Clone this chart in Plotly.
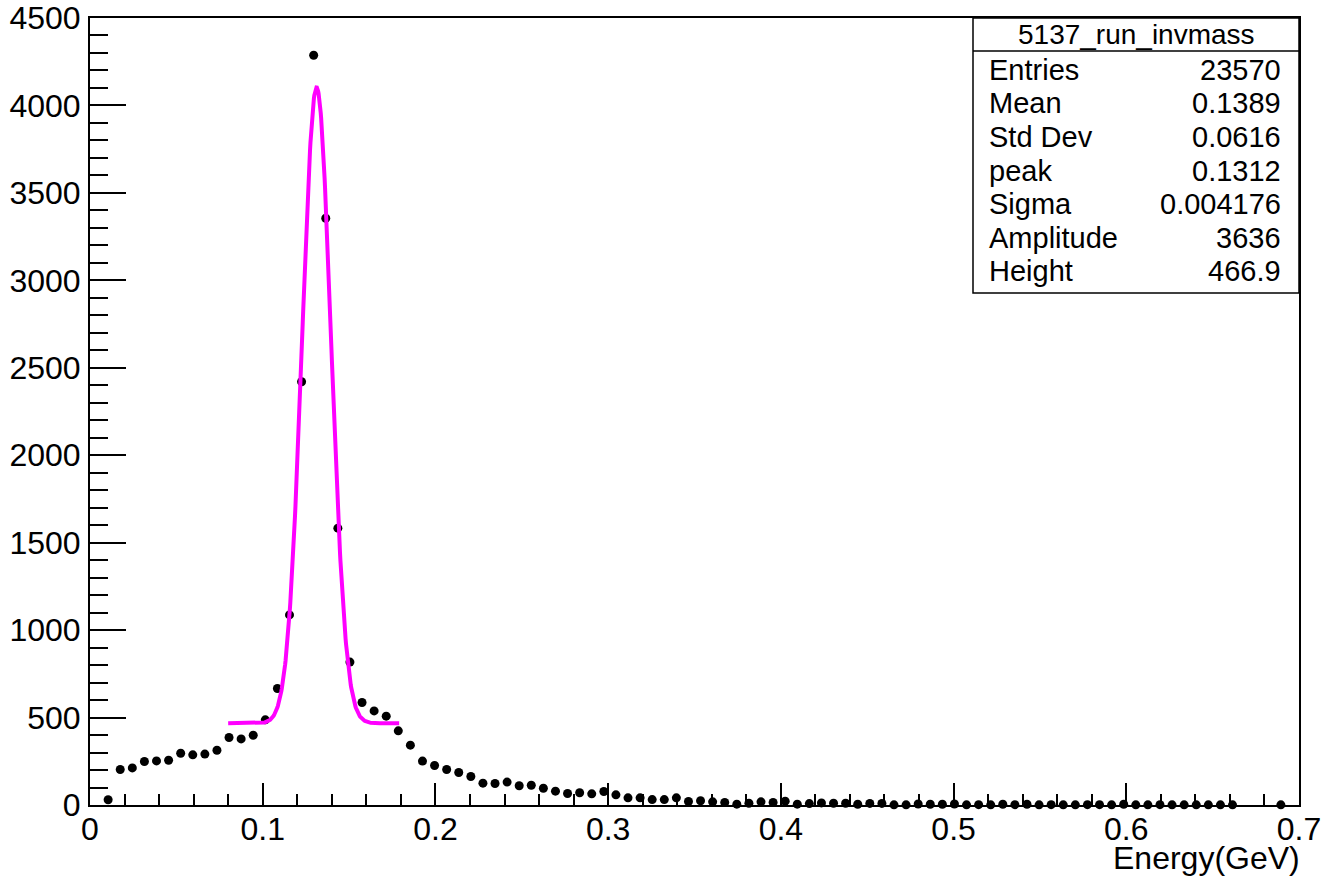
import numpy as np
import plotly.graph_objects as go

# ---- histogram data (100 bins, 0 .. 0.7 GeV) ----
bin_low = 0.0
bin_width = 0.007
counts = [
    0, 30, 203, 212, 249, 252, 256, 296, 287, 291,
    313, 386, 378, 399, 487, 666, 1087, 2420, 4287, 3355,
    1583, 817, 586, 538, 508, 424, 342, 251, 226, 203,
    186, 163, 125, 123, 131, 110, 113, 96, 79, 66,
    70, 64, 77, 58, 41, 41, 31, 31, 41, 20,
    24, 18, 14, 5, 10, 18, 15, 22, 5, 8,
    12, 10, 10, 4, 9, 9, 1, 1, 6, 4,
    4, 6, 1, 2, 1, 4, 2, 4, 1, 2,
    1, 1, 2, 2, 1, 4, 1, 1, 2, 1,
    1, 1, 1, 1, 1, 0, 0, 0, 1, 0,
]

# ---- fit (gaussian + constant) ----
fit_peak = 0.1312
fit_sigma = 0.004176
fit_amplitude = 3636
fit_height = 466.9
fit_xmin, fit_xmax = 0.08, 0.179

# ---- stats box ----
stats_title = "5137_run_invmass"
stats_labels = ["Entries", "Mean", "Std Dev", "peak", "Sigma", "Amplitude", "Height"]
stats_values = ["23570", "0.1389", "0.0616", "0.1312", "0.004176", "3636", "466.9"]

# ---- axes ----
x_range = [0, 0.7]
y_range = [0, 4500]
x_title = "Energy(GeV)"

centers = bin_low + bin_width * (np.arange(len(counts)) + 0.5)
cnt = np.array(counts, dtype=float)
mask = cnt > 0

fx = np.linspace(fit_xmin, fit_xmax, 400)
drawn_sigma = 2 * fit_sigma
fy = fit_height + fit_amplitude * np.exp(-0.5 * ((fx - fit_peak) / drawn_sigma) ** 2)

W, H = 1324, 878
L, R, T, B = 90, 25, 18, 73
pw, ph = W - L - R, H - T - B

def px(xp):
    return (xp - L) / pw

def py(yp):
    return (H - B - yp) / ph

fig = go.Figure()
fig.add_trace(go.Scatter(
    x=centers[mask], y=cnt[mask], mode="markers",
    marker=dict(color="black", size=9, line=dict(width=0)),
    showlegend=False, cliponaxis=False,
))
fig.add_trace(go.Scatter(
    x=fx, y=fy, mode="lines",
    line=dict(color="#FF00FF", width=4),
    showlegend=False,
))

font_family = "Liberation Sans, Arial, sans-serif"

fig.update_layout(
    width=W, height=H,
    margin=dict(l=L, r=R, t=T, b=B, autoexpand=False),
    plot_bgcolor="white", paper_bgcolor="white",
    font=dict(family=font_family, color="black"),
    xaxis=dict(
        range=x_range, dtick=0.1, tick0=0, showgrid=False, zeroline=False,
        showline=True, linecolor="black", linewidth=2, mirror=True,
        ticks="inside", ticklen=22, tickwidth=2, tickcolor="black",
        tickfont=dict(size=32, family=font_family, color="black"),
        ticklabelstandoff=-5,
        minor=dict(ticks="inside", dtick=0.02, tick0=0, ticklen=11, tickwidth=2, tickcolor="black"),
    ),
    yaxis=dict(
        range=y_range, dtick=500, tick0=0, showgrid=False, zeroline=False,
        showline=True, linecolor="black", linewidth=2, mirror=True,
        ticks="inside", ticklen=36, tickwidth=2, tickcolor="black",
        tickfont=dict(size=32, family=font_family, color="black"),
        ticklabelstandoff=1,
        minor=dict(ticks="inside", dtick=100, tick0=0, ticklen=18, tickwidth=2, tickcolor="black"),
    ),
)

# axis title
fig.add_annotation(
    text=x_title, xref="paper", yref="paper", x=px(1302), y=py(858),
    xanchor="right", yanchor="middle", showarrow=False,
    font=dict(size=32, family=font_family, color="black"),
)

# stats box
bx0, bx1, by0, by1, bsep = 973, 1299, 18, 293, 51
fig.add_shape(type="rect", xref="paper", yref="paper",
              x0=px(bx0), x1=px(bx1), y0=py(by1), y1=py(by0),
              line=dict(color="black", width=1.5), fillcolor="white", layer="above")
fig.add_shape(type="line", xref="paper", yref="paper",
              x0=px(bx0), x1=px(bx1), y0=py(bsep), y1=py(bsep),
              line=dict(color="black", width=1.5), layer="above")
fig.add_annotation(
    text=stats_title, xref="paper", yref="paper", x=px((bx0 + bx1) / 2), y=py(35),
    xanchor="center", yanchor="middle", showarrow=False,
    font=dict(size=28, family=font_family, color="black"),
)
for i, (lab, val) in enumerate(zip(stats_labels, stats_values)):
    yy = 70 + 33.5 * i
    fig.add_annotation(text=lab, xref="paper", yref="paper", x=px(987), y=py(yy),
                       xanchor="left", yanchor="middle", showarrow=False,
                       font=dict(size=29, family=font_family, color="black"))
    fig.add_annotation(text=val, xref="paper", yref="paper", x=px(1283), y=py(yy),
                       xanchor="right", yanchor="middle", showarrow=False,
                       font=dict(size=29, family=font_family, color="black"))

fig.write_html("out.html", config={"displayModeBar": False},
               post_script="document.body.style.margin='0';document.body.style.overflow='hidden';")
